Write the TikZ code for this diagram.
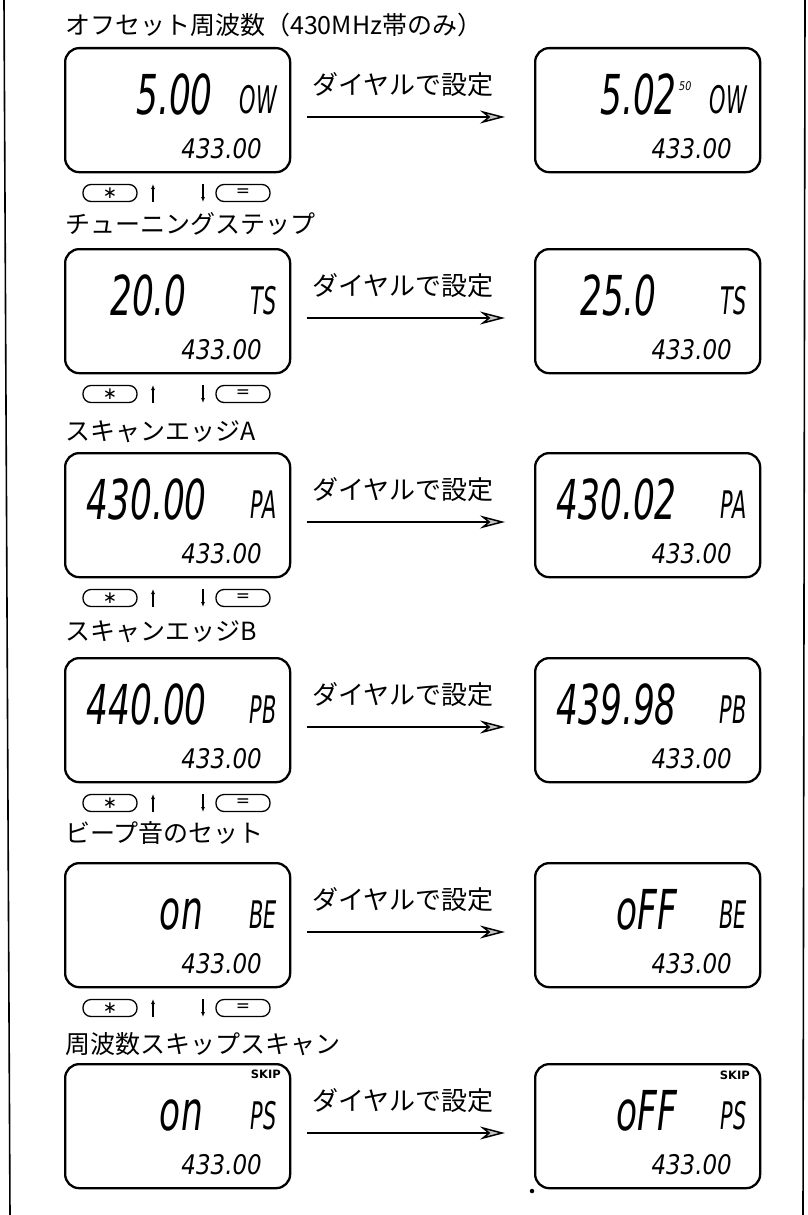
\documentclass[tikz,border=0pt]{standalone}
\usepackage{fontspec}
\usepackage{graphicx}
\usetikzlibrary{arrows.meta}
\newfontfamily\jp{Noto Sans CJK JP}
\newfontfamily\lcd{DejaVu Sans}
\newcommand\lcdbig[1]{\scalebox{0.625}[1]{\lcd\itshape\fontsize{55}{55}\selectfont #1}}
\newcommand\lcdmode[1]{\scalebox{0.55}[1]{\lcd\itshape\fontsize{38}{38}\selectfont #1}}
\newcommand\lcdsmall[1]{\scalebox{0.85}[1]{\lcd\itshape\fontsize{27}{27}\selectfont #1}}
\begin{document}
\begin{tikzpicture}[x=1pt,y=-1pt,
  lcdbox/.style={draw, line width=2.3pt, rounded corners=14pt, minimum width=225pt, minimum height=124pt, anchor=north west, inner sep=0pt},
  txt/.style={anchor=base east, inner sep=0pt},
  title/.style={anchor=base west, inner sep=0pt, font=\jp\fontsize{25}{25}\selectfont},
  lbl/.style={anchor=base west, inner sep=0pt, font=\jp\fontsize{26}{26}\selectfont},
  btn/.style={draw, line width=1.3pt, rounded corners=8pt, minimum width=54pt, minimum height=17pt, inner sep=0pt, font=\lcd\fontsize{17}{17}\selectfont},
  mainarr/.style={line width=1.5pt, -{Stealth[length=25pt,width=13pt,inset=8pt,fill=gray!45]}},
  smallarr/.style={line width=1.1pt, -{Latex[length=5pt,width=4pt]}},
  border/.style={line width=1.6pt},
  skiplbl/.style={anchor=base east, inner sep=0pt, font=\lcd\bfseries\fontsize{11.5}{11.5}\selectfont}
]
\useasboundingbox (0,0) rectangle (808,1215);
% frame lines
\coordinate (bt1) at (4,0); \coordinate (bb1) at (10,1215);
\coordinate (bt2) at (805,0); \coordinate (bb2) at (803,1215);
\draw[border] (bt1) -- (bb1);
\draw[border] (bt2) -- (bb2);

\foreach \i/\T/\tb/\ttl/\lb/\lx/\md/\rb/\rx in {
 1/47/35/{オフセット周波数（430MHz帯のみ）}/5.00/213/OW/5.02/677,
 2/248/233/{チューニングステップ}/20.0/187/TS/25.0/657,
 3/452/440/{スキャンエッジA}/430.00/207/PA/430.02/677,
 4/657/640/{スキャンエッジB}/440.00/207/PB/439.98/677,
 5/862/842/{ビープ音のセット}/on/203/BE/oFF/677,
 6/1063/1053/{周波数スキップスキャン}/on/203/PS/oFF/677}
{
  \node[title] (h\i) at (65,\tb) {\ttl};
  \node[lcdbox] (L\i) at (64,\T) {};
  \node[lcdbox] (R\i) at (534,\T) {};
  \node[txt] (Lb\i) at (\lx,{\T+67}) {\lcdbig{\lb}};
  \node[txt] (Rb\i) at (\rx,{\T+67}) {\lcdbig{\rb}};
  \node[txt] (Lm\i) at (277,{\T+66}) {\lcdmode{\md}};
  \node[txt] (Rm\i) at (747,{\T+66}) {\lcdmode{\md}};
  \node[txt] (Ls\i) at (262,{\T+111}) {\lcdsmall{433.00}};
  \node[txt] (Rs\i) at (732,{\T+111}) {\lcdsmall{433.00}};
  \node[lbl] (d\i) at (312,{\T+47}) {ダイヤルで設定};
  \coordinate (a\i) at (307,{\T+70});
  \coordinate (b\i) at (505,{\T+70});
  \draw[mainarr] (a\i) -- (b\i);
  \ifnum\i<6
    \node[btn] (k\i) at (110,{\T+146}) {∗};
    \node[btn] (e\i) at (243,{\T+146}) {=};
    \coordinate (ua\i) at (153,{\T+155});
    \coordinate (ub\i) at (153,{\T+137});
    \coordinate (da\i) at (203,{\T+137});
    \coordinate (db\i) at (203,{\T+155});
    \draw[smallarr] (ua\i) -- (ub\i);
    \draw[smallarr] (da\i) -- (db\i);
  \fi
}
% superscript digits in first right display
\node[anchor=base west, inner sep=0pt] (sup) at (679,90) {\scalebox{0.8}[1]{\lcd\itshape\fontsize{12}{12}\selectfont 50}};
% SKIP indicators
\node[skiplbl] (sk1) at (281,1078) {SKIP};
\node[skiplbl] (sk2) at (750,1079) {SKIP};
% stray dot
\node[circle, fill, inner sep=0pt, minimum size=4.5pt] (dot) at (532,1191) {};
\end{tikzpicture}
\end{document}
